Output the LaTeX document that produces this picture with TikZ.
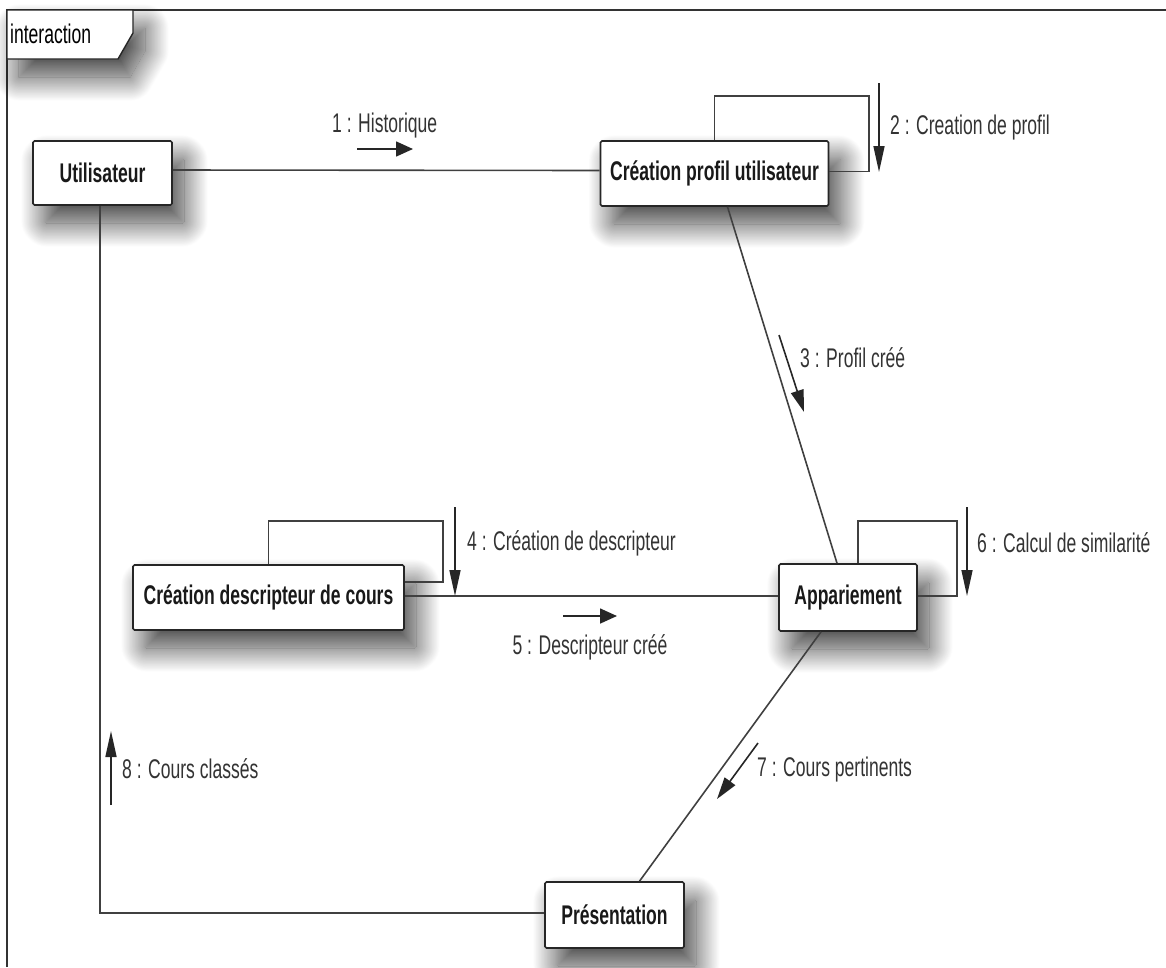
\documentclass[tikz,border=0pt]{standalone}
\usepackage{fontspec}
\setmainfont{Liberation Sans}[FakeStretch=0.65]
\usetikzlibrary{arrows.meta,shadows.blur,calc}

\tikzset{
  softshadow/.style={blur shadow={shadow xshift=12pt, shadow yshift=-18pt,
      shadow blur radius=24pt, shadow blur steps=40, shadow opacity=75}},
  obj/.style={draw=black!85, line width=1.6pt, rounded corners=1.5pt, fill=white,
      inner sep=0pt, font=\fontsize{27}{32}\selectfont\bfseries, text=black!90, softshadow},
  link/.style={draw=black!75, line width=1.6pt},
  msgline/.style={draw=black!85, line width=1.6pt},
  vmsg/.style={msgline, -{Triangle[length=26pt,width=11pt]}},
  hmsg/.style={msgline, -{Triangle[length=17pt,width=15pt]}},
  dmsg/.style={msgline, -{Triangle[length=22pt,width=13pt]}},
  lbl/.style={font=\fontsize{27}{32}\selectfont, text=black!80, inner sep=0pt, anchor=west},
}

\begin{document}
\begin{tikzpicture}[x=1pt, y=-1pt]
\useasboundingbox (0,0) rectangle (1166,967);

% frame of the interaction diagram
\draw[draw=black!80, line width=1.6pt] (7,967) -- (7,10) -- (1166,10);
\draw[draw=black!85, line width=1.4pt, fill=white, softshadow]
  (7,10) -- (133,10) -- (133,33) -- (118,59) -- (7,59) -- cycle;
\node[lbl, text=black] (tab) at (10,34) {interaction};

% objects
\node[obj, minimum width=139pt, minimum height=64pt] (u)  at (102.5,173)   {Utilisateur};
\node[obj, minimum width=228pt, minimum height=65pt] (cp) at (714.5,173.5) {Création profil utilisateur};
\node[obj, minimum width=271pt, minimum height=65pt] (cd) at (268.5,597.5) {Création descripteur de cours};
\node[obj, minimum width=138pt, minimum height=67pt] (ap) at (848,597.5)   {Appariement};
\node[obj, minimum width=139pt, minimum height=66pt] (pr) at (614.5,915)   {Présentation};

% links between objects
\draw[link] ($(u.east)+(0,-3)$) -- ($(cp.west)+(0,-3)$);
\draw[link] (cp.north) |- (869,96) |- ($(cp.east)+(0,-2)$);
\draw[link] ($(cp.south)+(13,0)$) -- ($(ap.north)+(-11,0)$);
\draw[link] (cd.north) |- (443,521) |- (cd.east |- 0,582);
\draw[link] (cd.east |- 0,596) -- (ap.west |- 0,596);
\draw[link] ($(ap.north)+(10,0)$) |- (957,521) |- (ap.east |- 0,596);
\draw[link] ($(ap.south)+(-27,0)$) -- ($(pr.north)+(25,0)$);
\draw[link] (pr.west |- 0,913) -| (u.south -| 100,0);

% messages
\coordinate (m1a) at (357,149); \coordinate (m1b) at (413,149);
\draw[hmsg] (m1a) -- (m1b);
\node[lbl] (t1) at (332,126) {1 : Historique};

\coordinate (m2a) at (879,83); \coordinate (m2b) at (879,172);
\draw[vmsg] (m2a) -- (m2b);
\node[lbl] (t2) at (890,128) {2 : Creation de profil};

\coordinate (m3a) at (779,335); \coordinate (m3b) at (804,412);
\draw[dmsg] (m3a) -- (m3b);
\node[lbl] (t3) at (800,358) {3 : Profil créé};

\coordinate (m4a) at (455,507); \coordinate (m4b) at (455,596);
\draw[vmsg] (m4a) -- (m4b);
\node[lbl] (t4) at (467,543) {4 : Création de descripteur};

\coordinate (m5a) at (563,616); \coordinate (m5b) at (617,616);
\draw[hmsg] (m5a) -- (m5b);
\node[lbl, anchor=center] (t5) at (590,647) {5 : Descripteur créé};

\coordinate (m6a) at (967,507); \coordinate (m6b) at (967,596);
\draw[vmsg] (m6a) -- (m6b);
\node[lbl] (t6) at (977,543) {6 : Calcul de similarité};

\coordinate (m7a) at (758,743); \coordinate (m7b) at (717,799);
\draw[dmsg] (m7a) -- (m7b);
\node[lbl] (t7) at (757,770) {7 : Cours pertinents};

\coordinate (m8a) at (111,805); \coordinate (m8b) at (111,731);
\draw[vmsg] (m8a) -- (m8b);
\node[lbl] (t8) at (122,769) {8 : Cours classés};
\end{tikzpicture}
\end{document}
